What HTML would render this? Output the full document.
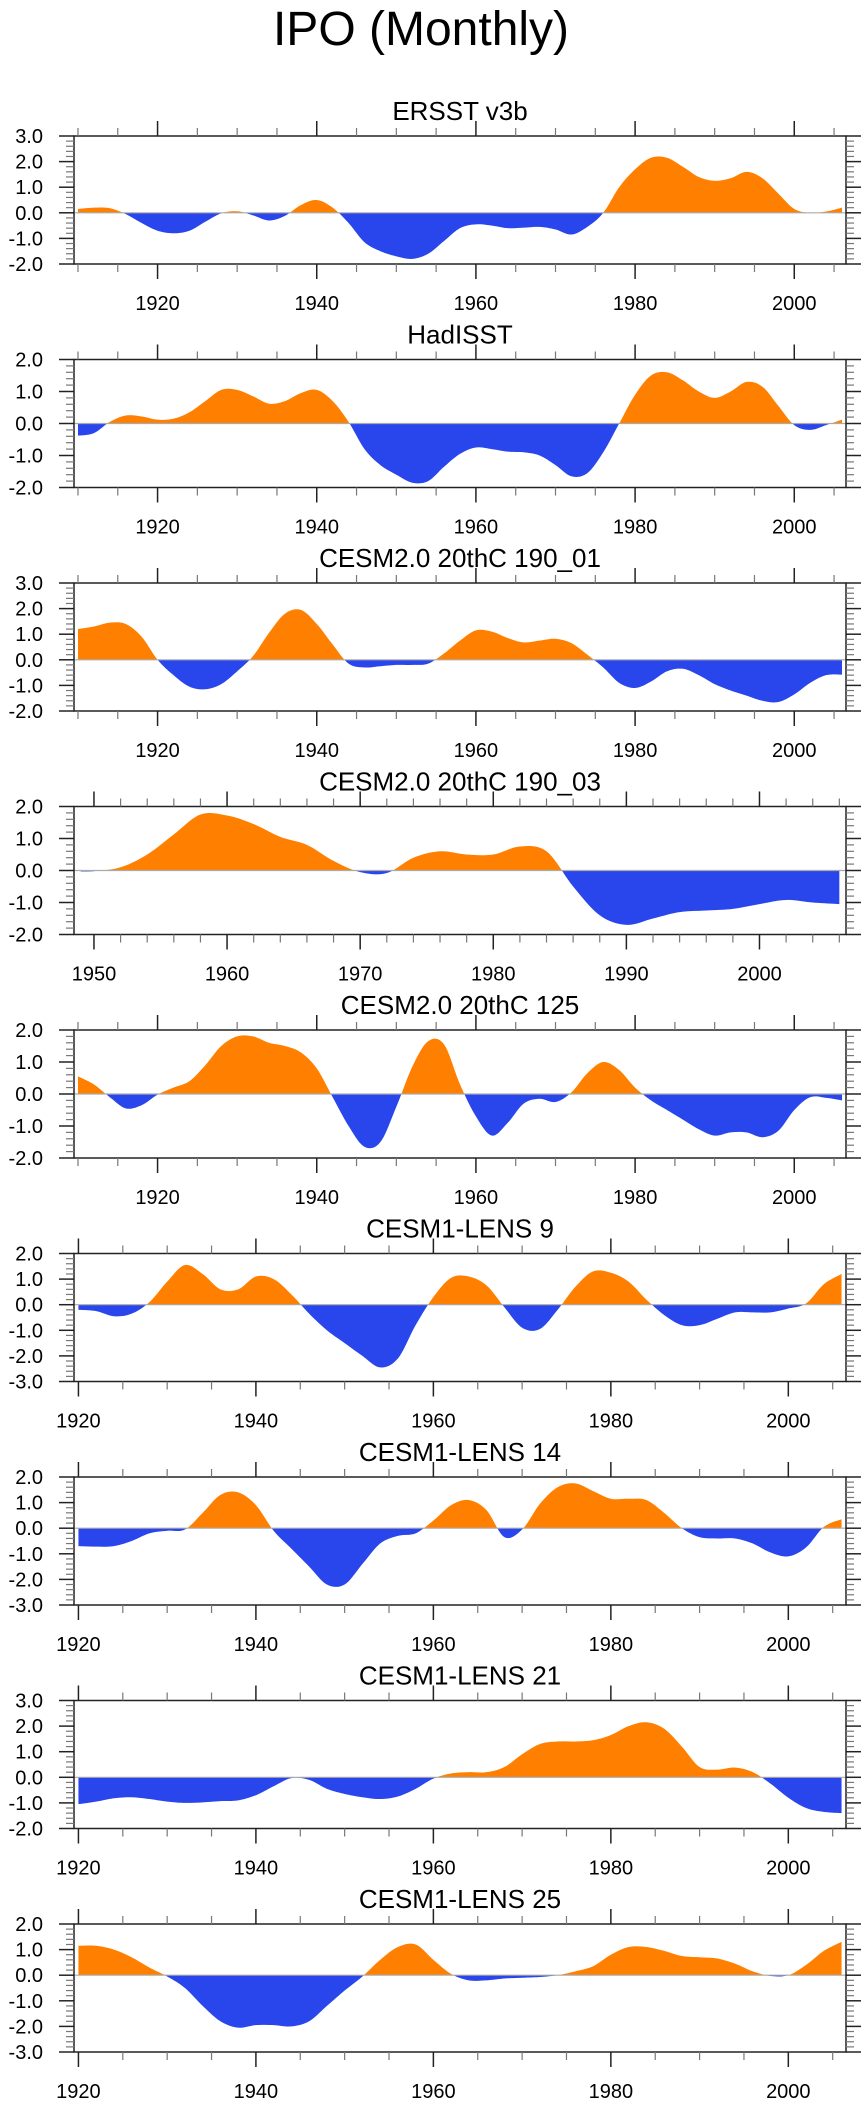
<!DOCTYPE html>
<html><head><meta charset="utf-8"><title>IPO (Monthly)</title>
<style>
html,body{margin:0;padding:0;background:#fff;}
svg{display:block;font-family:"Liberation Sans",Arial,sans-serif;}
</style></head>
<body>
<svg id="chart" width="867" height="2107" viewBox="0 0 867 2107" xmlns="http://www.w3.org/2000/svg">
<text x="421" y="45" font-size="48" text-anchor="middle" fill="#000">IPO (Monthly)</text>
</svg>
<script>
// ---- data ----
const titles = ["ERSST v3b","HadISST","CESM2.0 20thC 190_01","CESM2.0 20thC 190_03","CESM2.0 20thC 125","CESM1-LENS 9","CESM1-LENS 14","CESM1-LENS 21","CESM1-LENS 25"];
const startYears = [1910,1910,1910,1949,1910,1920,1920,1920,1920];
const yMins = [-2,-2,-2,-2,-2,-3,-3,-2,-3];
const yMaxs = [3,2,3,2,2,2,2,3,2];
const ersst = [0.15,0.2,0.18,-0.05,-0.4,-0.7,-0.8,-0.7,-0.35,-0.02,0.06,-0.1,-0.3,-0.12,0.3,0.5,0.2,-0.4,-1.15,-1.5,-1.7,-1.8,-1.6,-1.1,-0.6,-0.45,-0.5,-0.6,-0.58,-0.55,-0.65,-0.85,-0.55,0.0,1.0,1.7,2.15,2.15,1.8,1.4,1.25,1.35,1.6,1.35,0.75,0.15,0.0,0.05,0.2];
const hadisst = [-0.38,-0.3,0.05,0.25,0.22,0.12,0.15,0.35,0.7,1.05,1.05,0.85,0.62,0.7,0.95,1.05,0.7,0.05,-0.8,-1.3,-1.6,-1.85,-1.8,-1.35,-0.95,-0.75,-0.8,-0.88,-0.9,-1.0,-1.3,-1.65,-1.55,-0.9,0.0,0.9,1.5,1.6,1.35,1.0,0.8,1.0,1.3,1.15,0.55,-0.05,-0.2,-0.05,0.12];
const cesm2_01 = [1.2,1.3,1.45,1.4,0.9,0.0,-0.6,-1.05,-1.15,-0.95,-0.45,0.15,1.05,1.8,1.95,1.4,0.6,-0.15,-0.3,-0.25,-0.2,-0.2,-0.15,0.25,0.75,1.15,1.1,0.85,0.68,0.75,0.82,0.65,0.2,-0.3,-0.9,-1.1,-0.85,-0.45,-0.35,-0.6,-0.95,-1.2,-1.4,-1.6,-1.65,-1.35,-0.9,-0.6,-0.58];
const cesm2_03 = [-0.03,-0.02,0.1,0.5,1.13,1.75,1.72,1.45,1.05,0.8,0.3,-0.05,-0.08,0.4,0.6,0.5,0.5,0.75,0.6,-0.5,-1.4,-1.7,-1.5,-1.3,-1.25,-1.2,-1.05,-0.92,-1.0,-1.05];
const cesm2_125 = [0.55,0.3,-0.1,-0.45,-0.35,-0.02,0.2,0.4,0.9,1.5,1.8,1.8,1.6,1.5,1.3,0.8,-0.1,-1.0,-1.65,-1.5,-0.4,0.85,1.65,1.55,0.3,-0.7,-1.3,-0.9,-0.3,-0.15,-0.25,0.05,0.65,1.0,0.75,0.2,-0.2,-0.5,-0.8,-1.1,-1.3,-1.2,-1.2,-1.35,-1.15,-0.5,-0.1,-0.12,-0.2];
const lens9 = [-0.2,-0.25,-0.45,-0.35,0.1,0.9,1.55,1.2,0.6,0.6,1.1,1.0,0.4,-0.35,-1.0,-1.5,-2.0,-2.45,-2.1,-0.8,0.3,1.05,1.1,0.75,-0.1,-0.9,-0.95,-0.2,0.7,1.3,1.25,0.9,0.2,-0.4,-0.8,-0.8,-0.55,-0.3,-0.3,-0.3,-0.15,0.05,0.8,1.2];
const lens14 = [-0.7,-0.72,-0.7,-0.5,-0.2,-0.1,-0.05,0.6,1.3,1.4,0.9,-0.1,-0.8,-1.5,-2.2,-2.2,-1.4,-0.6,-0.3,-0.2,0.3,0.9,1.1,0.7,-0.35,-0.05,0.95,1.6,1.75,1.45,1.15,1.15,1.1,0.6,0.0,-0.35,-0.4,-0.4,-0.6,-0.95,-1.1,-0.75,0.05,0.35];
const lens21 = [-1.05,-0.95,-0.82,-0.78,-0.85,-0.95,-1.0,-0.98,-0.93,-0.9,-0.7,-0.35,-0.03,-0.1,-0.45,-0.65,-0.78,-0.85,-0.75,-0.45,-0.05,0.15,0.2,0.2,0.4,0.9,1.3,1.4,1.4,1.45,1.65,2.0,2.15,1.9,1.2,0.4,0.3,0.38,0.2,-0.25,-0.8,-1.2,-1.35,-1.4];
const lens25 = [1.15,1.15,1.0,0.7,0.3,-0.05,-0.5,-1.2,-1.8,-2.05,-1.95,-1.95,-2.0,-1.8,-1.2,-0.6,-0.05,0.6,1.1,1.2,0.6,0.05,-0.2,-0.2,-0.13,-0.1,-0.07,0.0,0.15,0.35,0.8,1.1,1.1,0.95,0.75,0.7,0.65,0.45,0.15,-0.03,0.0,0.4,0.95,1.3];
const seriesList = [ersst,hadisst,cesm2_01,cesm2_03,cesm2_125,lens9,lens14,lens21,lens25];

// ---- layout ----
const svg = document.getElementById('chart');
const NS = 'http://www.w3.org/2000/svg';
const L = 74, R = 846, H = 128, TOP0 = 136, STEP = 223.5;
function mk(tag, attrs, parent){const e=document.createElementNS(NS,tag);for(const k in attrs)e.setAttribute(k,attrs[k]);(parent||svg).appendChild(e);return e;}
function yearsFor(start){ // category years for a series
  const ys=[];
  if(start===1949){ys.push(1949);for(let y=1950;y<=2006;y+=2)ys.push(y);}
  else{for(let y=start;y<=2006;y+=2)ys.push(y);}
  return ys;
}
seriesList.forEach((vals,i)=>{
  const top = TOP0 + STEP*i, bot = top + H;
  const x0 = startYears[i]-0.5, x1 = 2006.5;
  const xs = yr => L + (yr - x0)/(x1 - x0)*(R-L);
  const ys = v => bot - (v - yMins[i])/(yMaxs[i]-yMins[i])*H;
  const g = mk('g',{});
  
  
  const t = mk('text',{x:(L+R)/2,y:top-16,'font-size':26,'text-anchor':'middle',fill:'#000'},g);
  t.textContent = titles[i];
  
  
  // smooth curve via Catmull-Rom
  const years = yearsFor(startYears[i]);
  const P = years.map((y,k)=>[xs(y), ys(vals[k])]);
  const pts=[];
  for(let k=0;k<P.length-1;k++){
    const p0=P[Math.max(0,k-1)],p1=P[k],p2=P[k+1],p3=P[Math.min(P.length-1,k+2)];
    for(let s=0;s<10;s++){const u=s/10,u2=u*u,u3=u2*u;
      const f=(a,b,c,d)=>0.5*((2*b)+(-a+c)*u+(2*a-5*b+4*c-d)*u2+(-a+3*b-3*c+d)*u3);
      pts.push([f(p0[0],p1[0],p2[0],p3[0]), f(p0[1],p1[1],p2[1],p3[1])]);}
  }
  pts.push(P[P.length-1]);
  const z = ys(0);
  let d = 'M'+pts[0][0].toFixed(2)+','+z.toFixed(2);
  pts.forEach(p=>{d+='L'+p[0].toFixed(2)+','+p[1].toFixed(2);});
  d += 'L'+pts[pts.length-1][0].toFixed(2)+','+z.toFixed(2)+'Z';
  const cpA = mk('clipPath',{id:'ca'+i},g); mk('rect',{x:L,y:top,width:R-L,height:z-top},cpA);
  const cpB = mk('clipPath',{id:'cb'+i},g); mk('rect',{x:L,y:z,width:R-L,height:bot-z},cpB);
  const pa = mk('path',{d:d,fill:'#ff8000','clip-path':'url(#ca'+i+')'},g);
  
  
  const pb = mk('path',{d:d,fill:'#2945ec','clip-path':'url(#cb'+i+')'},g);
  
  
  const zl = mk('line',{x1:L,x2:R,y1:z,y2:z,stroke:'#aaa','stroke-width':1.2},g);
  
  
  const fr = mk('rect',{x:L,y:top,width:R-L,height:H,fill:'none',stroke:'#222','stroke-width':1.5},g);
  
  
  // y ticks
  for(let v=yMins[i]; v<=yMaxs[i]+1e-6; v+=0.2){
    const yy = ys(v), major = Math.abs(v-Math.round(v))<1e-6;
    const len = major?15:8;
    mk('line',{x1:L-len,x2:L,y1:yy,y2:yy,stroke:major?'#222':'#777','stroke-width':major?1.5:1.2},g);
    mk('line',{x1:R,x2:R+len,y1:yy,y2:yy,stroke:major?'#222':'#777','stroke-width':major?1.5:1.2},g);
    if(major){
      const lb = mk('text',{x:43,y:yy+7,'font-size':20,'text-anchor':'end',fill:'#000'},g);
      lb.textContent = Math.round(v).toFixed(1);
      
      
    }
  }
  // x ticks
  const majorStep = startYears[i]===1949?10:20, minorStep = startYears[i]===1949?2:5;
  for(let yr=Math.ceil(x0/minorStep)*minorStep; yr<=x1; yr+=minorStep){
    const xx = xs(yr), major = yr%majorStep===0;
    const len = major?15:8;
    mk('line',{x1:xx,x2:xx,y1:top-len,y2:top,stroke:major?'#222':'#777','stroke-width':major?1.5:1.2},g);
    mk('line',{x1:xx,x2:xx,y1:bot,y2:bot+len,stroke:major?'#222':'#777','stroke-width':major?1.5:1.2},g);
    if(major){
      const lb = mk('text',{x:xx,y:bot+46,'font-size':20,'text-anchor':'middle',fill:'#000'},g);
      lb.textContent = yr;
      
      
    }
  }
});
</script>
</body></html>
